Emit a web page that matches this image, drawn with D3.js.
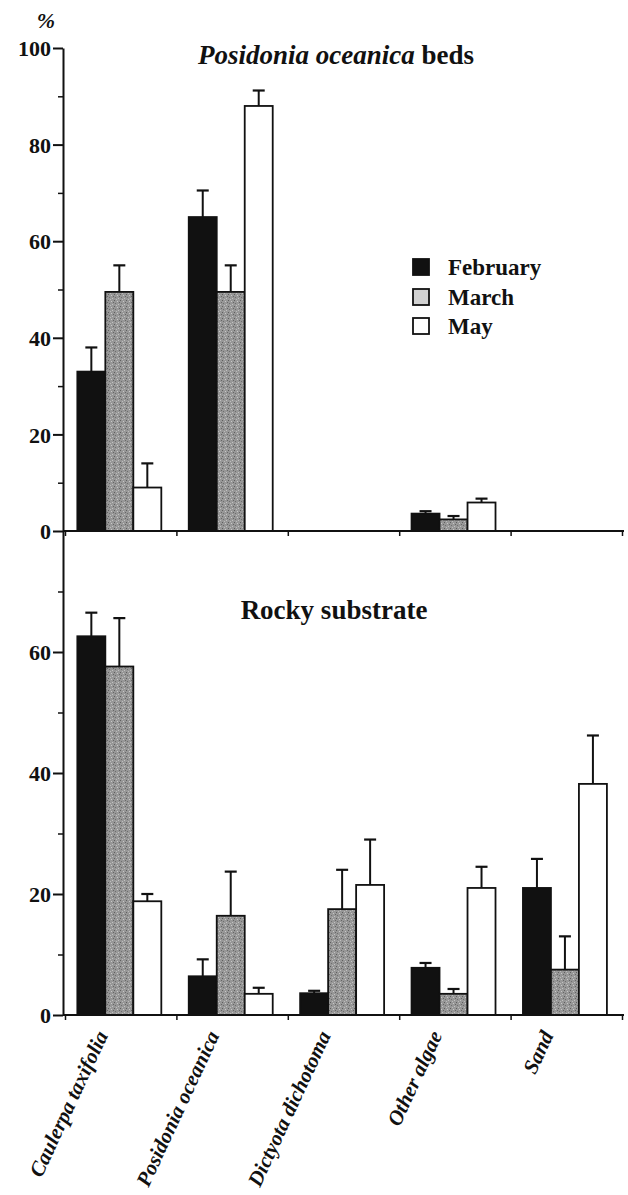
<!DOCTYPE html>
<html><head><meta charset="utf-8">
<script src="https://cdn.jsdelivr.net/npm/d3@7"></script>
<style>
body{margin:0;background:#fff}
svg text{font-family:"Liberation Serif","Times New Roman",serif;font-weight:bold;fill:#111}
</style>
</head><body>
<svg id="c" width="628" height="1195"></svg>
<script>
const categories = ["Caulerpa taxifolia","Posidonia oceanica","Dictyota dichotoma","Other algae","Sand"];
const months = ["February","March","May"];
const topTicks = [0,20,40,60,80,100];
const topMinor = [10,30,50,70,90];
const botTicks = [0,20,40,60];
const botMinor = [10,30,50,70];

// Posidonia oceanica beds
const bedsFeb = [33, 65, 0, 3.6, 0];
const bedsFebErr = [5, 5.5, 0, 0.5, 0];
const bedsMar = [49.5, 49.5, 0, 2.4, 0];
const bedsMarErr = [5.5, 5.5, 0, 0.7, 0];
const bedsMay = [9, 88, 0, 5.9, 0];
const bedsMayErr = [5, 3.2, 0, 0.8, 0];
// Rocky substrate
const rockFeb = [62.6, 6.4, 3.6, 7.8, 21];
const rockFebErr = [3.9, 2.8, 0.4, 0.8, 4.8];
const rockMar = [57.6, 16.4, 17.5, 3.5, 7.5];
const rockMarErr = [8, 7.3, 6.5, 0.8, 5.5];
const rockMay = [18.8, 3.5, 21.5, 21, 38.2];
const rockMayErr = [1.2, 1, 7.5, 3.5, 8];

const svg = d3.select("#c");
const defs = svg.append("defs");
const pat = defs.append("pattern").attr("id","stip").attr("patternUnits","userSpaceOnUse")
  .attr("width",6).attr("height",6);
pat.append("rect").attr("width",6).attr("height",6).attr("fill","#979797");
[[0,0,"#5e5e5e"],[3,1,"#c8c8c8"],[1,3,"#6e6e6e"],[4,4,"#c2c2c2"],[5,2,"#666"],[2,5,"#bcbcbc"]].forEach(p=>
  pat.append("rect").attr("x",p[0]).attr("y",p[1]).attr("width",1).attr("height",1).attr("fill",p[2]));
const fills = {February:"#111", March:"url(#stip)", May:"#fff"};

const x = d3.scaleBand().domain(categories).range([65,622]);
const xs = d3.scaleBand().domain(months).range([0,x.bandwidth()]).paddingOuter(0.49).align(0.45);
const xb = d3.scaleLinear().domain([0,5]).range([65,622]);
const yTop = d3.scaleLinear().domain([0,100]).range([531,48]);
const yBot = d3.scaleLinear().domain([0,80]).range([1015,531]);

function panel(y, series, errs, ticks, minor){
  months.forEach((m,i)=>{
    const g = svg.append("g");
    categories.forEach((c,j)=>{
      const v = series[i][j];
      if(v<=0) return;
      const x0 = x(c)+xs(m);
      g.append("rect").attr("x",x0).attr("y",y(v)).attr("width",xs.bandwidth())
        .attr("height",y(0)-y(v)).attr("fill",fills[m]).attr("stroke","#111").attr("stroke-width",1.8);
      const e = errs[i][j];
      if(e>0){
        const cx = x0+xs.bandwidth()/2;
        g.append("line").attr("x1",cx).attr("x2",cx).attr("y1",y(v)).attr("y2",y(v+e))
          .attr("stroke","#111").attr("stroke-width",2);
        g.append("line").attr("x1",cx-6).attr("x2",cx+6).attr("y1",y(v+e)).attr("y2",y(v+e))
          .attr("stroke","#111").attr("stroke-width",2.2);
      }
    });
  });
  const ya = svg.append("g").attr("transform","translate(63,0)")
    .call(d3.axisLeft(y).tickValues(ticks).tickSize(10).tickSizeOuter(0).tickFormat(d3.format("d")));
  ya.select(".domain").attr("stroke","#111").attr("stroke-width",2);
  ya.selectAll(".tick line").attr("stroke","#111").attr("stroke-width",2);
  ya.selectAll(".tick text").attr("x",-12).style("font-size","22px").attr("dy","0.35em");
  const ym = svg.append("g").attr("transform","translate(63,0)")
    .call(d3.axisLeft(y).tickValues(minor).tickSize(5).tickSizeOuter(0).tickFormat(""));
  ym.select(".domain").remove();
  ym.selectAll(".tick line").attr("stroke","#111").attr("stroke-width",1.5);
  const xa = svg.append("g").attr("transform",`translate(0,${y(0)})`)
    .call(d3.axisBottom(xb).tickValues([0,1,2,3,4,5]).tickSize(5).tickSizeOuter(0).tickFormat(""));
  xa.select(".domain").attr("d",`M63,0H624`).attr("stroke","#111").attr("stroke-width",2);
  xa.selectAll(".tick line").attr("stroke","#111").attr("stroke-width",1.5);
}

panel(yTop, [bedsFeb,bedsMar,bedsMay], [bedsFebErr,bedsMarErr,bedsMayErr], topTicks, topMinor);
panel(yBot, [rockFeb,rockMar,rockMay], [rockFebErr,rockMarErr,rockMayErr], botTicks, botMinor);

svg.append("text").attr("x",46).attr("y",28).attr("text-anchor","middle")
  .style("font-size","22px").style("font-style","italic").text("%");

const t1 = svg.append("text").attr("x",336).attr("y",64).attr("text-anchor","middle").style("font-size","27px");
t1.append("tspan").style("font-style","italic").text("Posidonia oceanica");
t1.append("tspan").text(" beds");
svg.append("text").attr("x",334).attr("y",619).attr("text-anchor","middle").style("font-size","27px").text("Rocky substrate");

const legendY = [267, 297, 326];
const lg = svg.append("g").attr("transform","translate(413,0)");
months.forEach((m,i)=>{
  const r = lg.append("g").attr("transform",`translate(0,${legendY[i]})`);
  r.append("rect").attr("x",0).attr("y",-8).attr("width",16).attr("height",16)
    .attr("fill", m==="March" ? "#d2d2d2" : fills[m]).attr("stroke","#111").attr("stroke-width",1.8);
  r.append("text").attr("x",35).attr("y",0).attr("dy","0.35em").style("font-size","23px").text(m);
});

categories.forEach(c=>{
  const cx = x(c)+x.bandwidth()/2;
  svg.append("text").attr("transform",`translate(${cx-19},1032) rotate(-65)`)
    .attr("text-anchor","end").attr("dy","0.35em").style("font-size","21px").style("font-style","italic").text(c);
});
</script>
</body></html>
